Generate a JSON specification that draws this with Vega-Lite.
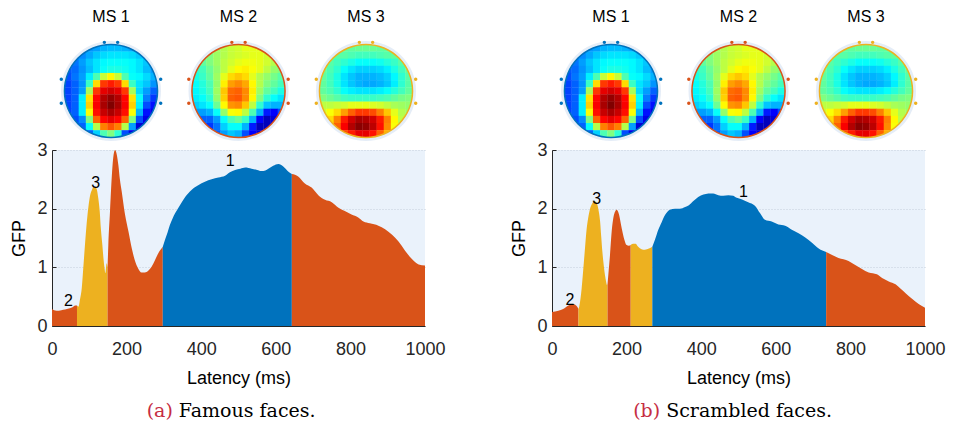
{
  "$schema": "https://vega.github.io/schema/vega-lite/v6.json",
  "padding": {"left": 10, "top": 9, "right": 5, "bottom": 5},
  "background": "white",
  "config": {
    "font": "Liberation Sans",
    "view": {"stroke": null},
    "axis": {"labelFont": "Liberation Sans", "titleFont": "Liberation Sans", "labelFontSize": 18, "titleFontSize": 18, "titleFontWeight": "normal", "labelColor": "#262626", "titleColor": "#000000", "domainColor": "#262626", "tickColor": "#262626", "labelFlush": false}
  },
  "datasets": {
    "head": [
      {"hx": -0.93, "hy": 6.8}, {"hx": 0.93, "hy": 6.8},
      {"hx": -6.95, "hy": 1.65}, {"hx": -6.95, "hy": -1.7},
      {"hx": 6.95, "hy": 1.65}, {"hx": 6.95, "hy": -1.7}
    ],
    "labs": [
      {"p": "a", "t": 44, "g": 0.42, "txt": "2"},
      {"p": "a", "t": 117, "g": 2.43, "txt": "3"},
      {"p": "a", "t": 478, "g": 2.82, "txt": "1"},
      {"p": "b", "t": 48, "g": 0.44, "txt": "2"},
      {"p": "b", "t": 120, "g": 2.16, "txt": "3"},
      {"p": "b", "t": 513, "g": 2.28, "txt": "1"}
    ],
    "gfp": [
      {"p":"a","s":1,"ms":"2","t":0,"g":0.29},{"p":"a","s":1,"ms":"2","t":12,"g":0.26},{"p":"a","s":1,"ms":"2","t":25,"g":0.27},{"p":"a","s":1,"ms":"2","t":35,"g":0.28},{"p":"a","s":1,"ms":"2","t":45,"g":0.3},{"p":"a","s":1,"ms":"2","t":55,"g":0.32},{"p":"a","s":1,"ms":"2","t":62,"g":0.35},{"p":"a","s":1,"ms":"2","t":67,"g":0.35},
      {"p":"a","s":2,"ms":"3","t":67,"g":0.35},{"p":"a","s":2,"ms":"3","t":71,"g":0.33},{"p":"a","s":2,"ms":"3","t":75,"g":0.45},{"p":"a","s":2,"ms":"3","t":80,"g":0.66},{"p":"a","s":2,"ms":"3","t":84,"g":1.0},{"p":"a","s":2,"ms":"3","t":88,"g":1.35},{"p":"a","s":2,"ms":"3","t":93,"g":1.75},{"p":"a","s":2,"ms":"3","t":98,"g":2.05},{"p":"a","s":2,"ms":"3","t":102,"g":2.22},{"p":"a","s":2,"ms":"3","t":107,"g":2.32},{"p":"a","s":2,"ms":"3","t":111,"g":2.37},{"p":"a","s":2,"ms":"3","t":116,"g":2.37},{"p":"a","s":2,"ms":"3","t":120,"g":2.33},{"p":"a","s":2,"ms":"3","t":124,"g":2.18},{"p":"a","s":2,"ms":"3","t":128,"g":1.95},{"p":"a","s":2,"ms":"3","t":131,"g":1.66},{"p":"a","s":2,"ms":"3","t":135,"g":1.38},{"p":"a","s":2,"ms":"3","t":138,"g":1.15},{"p":"a","s":2,"ms":"3","t":141,"g":0.98},{"p":"a","s":2,"ms":"3","t":143,"g":0.9},{"p":"a","s":2,"ms":"3","t":146.5,"g":1.07},{"p":"a","s":2,"ms":"3","t":149,"g":1.0},
      {"p":"a","s":3,"ms":"2","t":149,"g":1.0},{"p":"a","s":3,"ms":"2","t":151,"g":1.38},{"p":"a","s":3,"ms":"2","t":155.5,"g":1.95},{"p":"a","s":3,"ms":"2","t":160,"g":2.52},{"p":"a","s":3,"ms":"2","t":164,"g":2.86},{"p":"a","s":3,"ms":"2","t":169,"g":3.0},{"p":"a","s":3,"ms":"2","t":173,"g":2.94},{"p":"a","s":3,"ms":"2","t":178,"g":2.74},{"p":"a","s":3,"ms":"2","t":182,"g":2.5},{"p":"a","s":3,"ms":"2","t":187,"g":2.29},{"p":"a","s":3,"ms":"2","t":196,"g":1.89},{"p":"a","s":3,"ms":"2","t":205,"g":1.61},{"p":"a","s":3,"ms":"2","t":214,"g":1.32},{"p":"a","s":3,"ms":"2","t":222,"g":1.12},{"p":"a","s":3,"ms":"2","t":231,"g":0.98},{"p":"a","s":3,"ms":"2","t":240,"g":0.91},{"p":"a","s":3,"ms":"2","t":249,"g":0.91},{"p":"a","s":3,"ms":"2","t":258,"g":0.94},{"p":"a","s":3,"ms":"2","t":267,"g":1.01},{"p":"a","s":3,"ms":"2","t":276,"g":1.12},{"p":"a","s":3,"ms":"2","t":285,"g":1.24},{"p":"a","s":3,"ms":"2","t":297,"g":1.35},
      {"p":"a","s":4,"ms":"1","t":297,"g":1.35},{"p":"a","s":4,"ms":"1","t":303,"g":1.47},{"p":"a","s":4,"ms":"1","t":310,"g":1.6},{"p":"a","s":4,"ms":"1","t":316,"g":1.72},{"p":"a","s":4,"ms":"1","t":323,"g":1.83},{"p":"a","s":4,"ms":"1","t":330,"g":1.92},{"p":"a","s":4,"ms":"1","t":343,"g":2.06},{"p":"a","s":4,"ms":"1","t":357,"g":2.2},{"p":"a","s":4,"ms":"1","t":374,"g":2.32},{"p":"a","s":4,"ms":"1","t":392,"g":2.4},{"p":"a","s":4,"ms":"1","t":410,"g":2.46},{"p":"a","s":4,"ms":"1","t":428,"g":2.5},{"p":"a","s":4,"ms":"1","t":446,"g":2.53},{"p":"a","s":4,"ms":"1","t":464,"g":2.56},{"p":"a","s":4,"ms":"1","t":477,"g":2.62},{"p":"a","s":4,"ms":"1","t":491,"g":2.66},{"p":"a","s":4,"ms":"1","t":505,"g":2.68},{"p":"a","s":4,"ms":"1","t":518,"g":2.7},{"p":"a","s":4,"ms":"1","t":535,"g":2.68},{"p":"a","s":4,"ms":"1","t":550,"g":2.66},{"p":"a","s":4,"ms":"1","t":562,"g":2.64},{"p":"a","s":4,"ms":"1","t":572,"g":2.65},{"p":"a","s":4,"ms":"1","t":580,"g":2.68},{"p":"a","s":4,"ms":"1","t":593,"g":2.73},{"p":"a","s":4,"ms":"1","t":607,"g":2.76},{"p":"a","s":4,"ms":"1","t":620,"g":2.72},{"p":"a","s":4,"ms":"1","t":634,"g":2.63},{"p":"a","s":4,"ms":"1","t":643,"g":2.59},
      {"p":"a","s":5,"ms":"2","t":643,"g":2.59},{"p":"a","s":5,"ms":"2","t":660,"g":2.55},{"p":"a","s":5,"ms":"2","t":678,"g":2.43},{"p":"a","s":5,"ms":"2","t":696,"g":2.36},{"p":"a","s":5,"ms":"2","t":714,"g":2.23},{"p":"a","s":5,"ms":"2","t":732,"g":2.15},{"p":"a","s":5,"ms":"2","t":750,"g":2.11},{"p":"a","s":5,"ms":"2","t":767,"g":2.02},{"p":"a","s":5,"ms":"2","t":785,"g":1.96},{"p":"a","s":5,"ms":"2","t":803,"g":1.9},{"p":"a","s":5,"ms":"2","t":821,"g":1.85},{"p":"a","s":5,"ms":"2","t":835,"g":1.78},{"p":"a","s":5,"ms":"2","t":852,"g":1.75},{"p":"a","s":5,"ms":"2","t":875,"g":1.71},{"p":"a","s":5,"ms":"2","t":893,"g":1.65},{"p":"a","s":5,"ms":"2","t":911,"g":1.56},{"p":"a","s":5,"ms":"2","t":929,"g":1.44},{"p":"a","s":5,"ms":"2","t":947,"g":1.28},{"p":"a","s":5,"ms":"2","t":965,"g":1.14},{"p":"a","s":5,"ms":"2","t":983,"g":1.05},{"p":"a","s":5,"ms":"2","t":1000,"g":1.03},
      {"p":"b","s":1,"ms":"2","t":0,"g":0.24},{"p":"b","s":1,"ms":"2","t":17,"g":0.26},{"p":"b","s":1,"ms":"2","t":30,"g":0.29},{"p":"b","s":1,"ms":"2","t":44,"g":0.35},{"p":"b","s":1,"ms":"2","t":57,"g":0.375},{"p":"b","s":1,"ms":"2","t":66,"g":0.34},{"p":"b","s":1,"ms":"2","t":71,"g":0.29},
      {"p":"b","s":2,"ms":"3","t":71,"g":0.29},{"p":"b","s":2,"ms":"3","t":73,"g":0.33},{"p":"b","s":2,"ms":"3","t":79.5,"g":0.64},{"p":"b","s":2,"ms":"3","t":87,"g":1.21},{"p":"b","s":2,"ms":"3","t":93,"g":1.66},{"p":"b","s":2,"ms":"3","t":98,"g":1.88},{"p":"b","s":2,"ms":"3","t":102,"g":2.0},{"p":"b","s":2,"ms":"3","t":107,"g":2.08},{"p":"b","s":2,"ms":"3","t":111,"g":2.12},{"p":"b","s":2,"ms":"3","t":115,"g":2.13},{"p":"b","s":2,"ms":"3","t":119,"g":2.1},{"p":"b","s":2,"ms":"3","t":122,"g":2.06},{"p":"b","s":2,"ms":"3","t":126,"g":1.93},{"p":"b","s":2,"ms":"3","t":129,"g":1.78},{"p":"b","s":2,"ms":"3","t":132,"g":1.52},{"p":"b","s":2,"ms":"3","t":135,"g":1.27},{"p":"b","s":2,"ms":"3","t":139,"g":1.02},{"p":"b","s":2,"ms":"3","t":142,"g":0.87},{"p":"b","s":2,"ms":"3","t":145,"g":0.76},{"p":"b","s":2,"ms":"3","t":147.5,"g":0.7},{"p":"b","s":2,"ms":"3","t":149,"g":0.72},
      {"p":"b","s":3,"ms":"2","t":149,"g":0.72},{"p":"b","s":3,"ms":"2","t":152,"g":0.95},{"p":"b","s":3,"ms":"2","t":155.5,"g":1.21},{"p":"b","s":3,"ms":"2","t":160,"g":1.61},{"p":"b","s":3,"ms":"2","t":166,"g":1.89},{"p":"b","s":3,"ms":"2","t":170,"g":1.96},{"p":"b","s":3,"ms":"2","t":173,"g":1.98},{"p":"b","s":3,"ms":"2","t":177,"g":1.95},{"p":"b","s":3,"ms":"2","t":180,"g":1.89},{"p":"b","s":3,"ms":"2","t":187,"g":1.66},{"p":"b","s":3,"ms":"2","t":194,"g":1.47},{"p":"b","s":3,"ms":"2","t":200,"g":1.38},{"p":"b","s":3,"ms":"2","t":206,"g":1.37},{"p":"b","s":3,"ms":"2","t":211,"g":1.38},
      {"p":"b","s":4,"ms":"3","t":211,"g":1.38},{"p":"b","s":4,"ms":"3","t":218,"g":1.4},{"p":"b","s":4,"ms":"3","t":224,"g":1.4},{"p":"b","s":4,"ms":"3","t":231,"g":1.35},{"p":"b","s":4,"ms":"3","t":240,"g":1.31},{"p":"b","s":4,"ms":"3","t":249,"g":1.3},{"p":"b","s":4,"ms":"3","t":260,"g":1.32},{"p":"b","s":4,"ms":"3","t":269,"g":1.35},
      {"p":"b","s":5,"ms":"1","t":269,"g":1.35},{"p":"b","s":5,"ms":"1","t":276,"g":1.47},{"p":"b","s":5,"ms":"1","t":285,"g":1.64},{"p":"b","s":5,"ms":"1","t":294,"g":1.77},{"p":"b","s":5,"ms":"1","t":303,"g":1.89},{"p":"b","s":5,"ms":"1","t":316,"g":1.98},{"p":"b","s":5,"ms":"1","t":330,"g":2.0},{"p":"b","s":5,"ms":"1","t":343,"g":2.0},{"p":"b","s":5,"ms":"1","t":357,"g":2.03},{"p":"b","s":5,"ms":"1","t":367,"g":2.06},{"p":"b","s":5,"ms":"1","t":379,"g":2.13},{"p":"b","s":5,"ms":"1","t":392,"g":2.2},{"p":"b","s":5,"ms":"1","t":406,"g":2.24},{"p":"b","s":5,"ms":"1","t":419,"g":2.26},{"p":"b","s":5,"ms":"1","t":432,"g":2.26},{"p":"b","s":5,"ms":"1","t":446,"g":2.23},{"p":"b","s":5,"ms":"1","t":459,"g":2.22},{"p":"b","s":5,"ms":"1","t":473,"g":2.23},{"p":"b","s":5,"ms":"1","t":486,"g":2.22},{"p":"b","s":5,"ms":"1","t":491,"g":2.2},{"p":"b","s":5,"ms":"1","t":508,"g":2.16},{"p":"b","s":5,"ms":"1","t":526,"g":2.11},{"p":"b","s":5,"ms":"1","t":544,"g":2.05},{"p":"b","s":5,"ms":"1","t":558,"g":1.92},{"p":"b","s":5,"ms":"1","t":571,"g":1.81},{"p":"b","s":5,"ms":"1","t":589,"g":1.78},{"p":"b","s":5,"ms":"1","t":607,"g":1.73},{"p":"b","s":5,"ms":"1","t":625,"g":1.71},{"p":"b","s":5,"ms":"1","t":643,"g":1.64},{"p":"b","s":5,"ms":"1","t":661,"g":1.58},{"p":"b","s":5,"ms":"1","t":679,"g":1.51},{"p":"b","s":5,"ms":"1","t":697,"g":1.42},{"p":"b","s":5,"ms":"1","t":715,"g":1.32},{"p":"b","s":5,"ms":"1","t":735,"g":1.26},
      {"p":"b","s":6,"ms":"2","t":735,"g":1.26},{"p":"b","s":6,"ms":"2","t":751,"g":1.21},{"p":"b","s":6,"ms":"2","t":768,"g":1.16},{"p":"b","s":6,"ms":"2","t":795,"g":1.11},{"p":"b","s":6,"ms":"2","t":813,"g":1.04},{"p":"b","s":6,"ms":"2","t":831,"g":0.97},{"p":"b","s":6,"ms":"2","t":849,"g":0.91},{"p":"b","s":6,"ms":"2","t":871,"g":0.88},{"p":"b","s":6,"ms":"2","t":885,"g":0.82},{"p":"b","s":6,"ms":"2","t":903,"g":0.76},{"p":"b","s":6,"ms":"2","t":921,"g":0.71},{"p":"b","s":6,"ms":"2","t":934,"g":0.64},{"p":"b","s":6,"ms":"2","t":948,"g":0.56},{"p":"b","s":6,"ms":"2","t":966,"g":0.46},{"p":"b","s":6,"ms":"2","t":984,"g":0.37},{"p":"b","s":6,"ms":"2","t":1000,"g":0.31}
    ],
    "topo": [
      {"m":1,"i":-3,"j":6,"v":0.27},{"m":1,"i":-2,"j":6,"v":0.28},{"m":1,"i":-1,"j":6,"v":0.3},{"m":1,"i":0,"j":6,"v":0.31},{"m":1,"i":1,"j":6,"v":0.31},{"m":1,"i":2,"j":6,"v":0.3},{"m":1,"i":3,"j":6,"v":0.29},
      {"m":1,"i":-5,"j":5,"v":0.24},{"m":1,"i":-4,"j":5,"v":0.26},{"m":1,"i":-3,"j":5,"v":0.29},{"m":1,"i":-2,"j":5,"v":0.32},{"m":1,"i":-1,"j":5,"v":0.34},{"m":1,"i":0,"j":5,"v":0.35},{"m":1,"i":1,"j":5,"v":0.35},{"m":1,"i":2,"j":5,"v":0.35},{"m":1,"i":3,"j":5,"v":0.34},{"m":1,"i":4,"j":5,"v":0.32},{"m":1,"i":5,"j":5,"v":0.3},
      {"m":1,"i":-5,"j":4,"v":0.24},{"m":1,"i":-4,"j":4,"v":0.28},{"m":1,"i":-3,"j":4,"v":0.32},{"m":1,"i":-2,"j":4,"v":0.35},{"m":1,"i":-1,"j":4,"v":0.37},{"m":1,"i":0,"j":4,"v":0.38},{"m":1,"i":1,"j":4,"v":0.38},{"m":1,"i":2,"j":4,"v":0.38},{"m":1,"i":3,"j":4,"v":0.37},{"m":1,"i":4,"j":4,"v":0.35},{"m":1,"i":5,"j":4,"v":0.32},
      {"m":1,"i":-6,"j":3,"v":0.21},{"m":1,"i":-5,"j":3,"v":0.23},{"m":1,"i":-4,"j":3,"v":0.27},{"m":1,"i":-3,"j":3,"v":0.31},{"m":1,"i":-2,"j":3,"v":0.35},{"m":1,"i":-1,"j":3,"v":0.38},{"m":1,"i":0,"j":3,"v":0.4},{"m":1,"i":1,"j":3,"v":0.4},{"m":1,"i":2,"j":3,"v":0.39},{"m":1,"i":3,"j":3,"v":0.37},{"m":1,"i":4,"j":3,"v":0.35},{"m":1,"i":5,"j":3,"v":0.31},{"m":1,"i":6,"j":3,"v":0.28},
      {"m":1,"i":-6,"j":2,"v":0.2},{"m":1,"i":-5,"j":2,"v":0.24},{"m":1,"i":-4,"j":2,"v":0.28},{"m":1,"i":-3,"j":2,"v":0.36},{"m":1,"i":-2,"j":2,"v":0.45},{"m":1,"i":-1,"j":2,"v":0.57},{"m":1,"i":0,"j":2,"v":0.63},{"m":1,"i":1,"j":2,"v":0.57},{"m":1,"i":2,"j":2,"v":0.45},{"m":1,"i":3,"j":2,"v":0.38},{"m":1,"i":4,"j":2,"v":0.37},{"m":1,"i":5,"j":2,"v":0.34},{"m":1,"i":6,"j":2,"v":0.3},
      {"m":1,"i":-6,"j":1,"v":0.19},{"m":1,"i":-5,"j":1,"v":0.22},{"m":1,"i":-4,"j":1,"v":0.27},{"m":1,"i":-3,"j":1,"v":0.43},{"m":1,"i":-2,"j":1,"v":0.66},{"m":1,"i":-1,"j":1,"v":0.82},{"m":1,"i":0,"j":1,"v":0.85},{"m":1,"i":1,"j":1,"v":0.82},{"m":1,"i":2,"j":1,"v":0.66},{"m":1,"i":3,"j":1,"v":0.43},{"m":1,"i":4,"j":1,"v":0.35},{"m":1,"i":5,"j":1,"v":0.32},{"m":1,"i":6,"j":1,"v":0.27},
      {"m":1,"i":-6,"j":0,"v":0.19},{"m":1,"i":-5,"j":0,"v":0.22},{"m":1,"i":-4,"j":0,"v":0.28},{"m":1,"i":-3,"j":0,"v":0.54},{"m":1,"i":-2,"j":0,"v":0.82},{"m":1,"i":-1,"j":0,"v":0.9},{"m":1,"i":0,"j":0,"v":0.92},{"m":1,"i":1,"j":0,"v":0.9},{"m":1,"i":2,"j":0,"v":0.82},{"m":1,"i":3,"j":0,"v":0.54},{"m":1,"i":4,"j":0,"v":0.34},{"m":1,"i":5,"j":0,"v":0.28},{"m":1,"i":6,"j":0,"v":0.22},
      {"m":1,"i":-6,"j":-1,"v":0.19},{"m":1,"i":-5,"j":-1,"v":0.22},{"m":1,"i":-4,"j":-1,"v":0.36},{"m":1,"i":-3,"j":-1,"v":0.65},{"m":1,"i":-2,"j":-1,"v":0.87},{"m":1,"i":-1,"j":-1,"v":0.95},{"m":1,"i":0,"j":-1,"v":0.98},{"m":1,"i":1,"j":-1,"v":0.95},{"m":1,"i":2,"j":-1,"v":0.87},{"m":1,"i":3,"j":-1,"v":0.65},{"m":1,"i":4,"j":-1,"v":0.38},{"m":1,"i":5,"j":-1,"v":0.25},{"m":1,"i":6,"j":-1,"v":0.18},
      {"m":1,"i":-6,"j":-2,"v":0.19},{"m":1,"i":-5,"j":-2,"v":0.22},{"m":1,"i":-4,"j":-2,"v":0.36},{"m":1,"i":-3,"j":-2,"v":0.67},{"m":1,"i":-2,"j":-2,"v":0.88},{"m":1,"i":-1,"j":-2,"v":0.96},{"m":1,"i":0,"j":-2,"v":1.0},{"m":1,"i":1,"j":-2,"v":0.96},{"m":1,"i":2,"j":-2,"v":0.88},{"m":1,"i":3,"j":-2,"v":0.67},{"m":1,"i":4,"j":-2,"v":0.36},{"m":1,"i":5,"j":-2,"v":0.2},{"m":1,"i":6,"j":-2,"v":0.14},
      {"m":1,"i":-6,"j":-3,"v":0.19},{"m":1,"i":-5,"j":-3,"v":0.22},{"m":1,"i":-4,"j":-3,"v":0.36},{"m":1,"i":-3,"j":-3,"v":0.62},{"m":1,"i":-2,"j":-3,"v":0.86},{"m":1,"i":-1,"j":-3,"v":0.93},{"m":1,"i":0,"j":-3,"v":0.96},{"m":1,"i":1,"j":-3,"v":0.93},{"m":1,"i":2,"j":-3,"v":0.86},{"m":1,"i":3,"j":-3,"v":0.62},{"m":1,"i":4,"j":-3,"v":0.3},{"m":1,"i":5,"j":-3,"v":0.14},{"m":1,"i":6,"j":-3,"v":0.1},
      {"m":1,"i":-5,"j":-4,"v":0.2},{"m":1,"i":-4,"j":-4,"v":0.26},{"m":1,"i":-3,"j":-4,"v":0.5},{"m":1,"i":-2,"j":-4,"v":0.78},{"m":1,"i":-1,"j":-4,"v":0.87},{"m":1,"i":0,"j":-4,"v":0.9},{"m":1,"i":1,"j":-4,"v":0.87},{"m":1,"i":2,"j":-4,"v":0.78},{"m":1,"i":3,"j":-4,"v":0.5},{"m":1,"i":4,"j":-4,"v":0.2},{"m":1,"i":5,"j":-4,"v":0.1},
      {"m":1,"i":-5,"j":-5,"v":0.2},{"m":1,"i":-4,"j":-5,"v":0.22},{"m":1,"i":-3,"j":-5,"v":0.38},{"m":1,"i":-2,"j":-5,"v":0.55},{"m":1,"i":-1,"j":-5,"v":0.75},{"m":1,"i":0,"j":-5,"v":0.79},{"m":1,"i":1,"j":-5,"v":0.75},{"m":1,"i":2,"j":-5,"v":0.55},{"m":1,"i":3,"j":-5,"v":0.28},{"m":1,"i":4,"j":-5,"v":0.08},{"m":1,"i":5,"j":-5,"v":0.06},
      {"m":1,"i":-3,"j":-6,"v":0.22},{"m":1,"i":-2,"j":-6,"v":0.33},{"m":1,"i":-1,"j":-6,"v":0.45},{"m":1,"i":0,"j":-6,"v":0.5},{"m":1,"i":1,"j":-6,"v":0.42},{"m":1,"i":2,"j":-6,"v":0.2},{"m":1,"i":3,"j":-6,"v":0.1},

      {"m":2,"i":-3,"j":6,"v":0.53},{"m":2,"i":-2,"j":6,"v":0.55},{"m":2,"i":-1,"j":6,"v":0.57},{"m":2,"i":0,"j":6,"v":0.58},{"m":2,"i":1,"j":6,"v":0.6},{"m":2,"i":2,"j":6,"v":0.6},{"m":2,"i":3,"j":6,"v":0.6},
      {"m":2,"i":-5,"j":5,"v":0.48},{"m":2,"i":-4,"j":5,"v":0.5},{"m":2,"i":-3,"j":5,"v":0.53},{"m":2,"i":-2,"j":5,"v":0.55},{"m":2,"i":-1,"j":5,"v":0.57},{"m":2,"i":0,"j":5,"v":0.58},{"m":2,"i":1,"j":5,"v":0.59},{"m":2,"i":2,"j":5,"v":0.6},{"m":2,"i":3,"j":5,"v":0.6},{"m":2,"i":4,"j":5,"v":0.58},{"m":2,"i":5,"j":5,"v":0.57},
      {"m":2,"i":-5,"j":4,"v":0.47},{"m":2,"i":-4,"j":4,"v":0.5},{"m":2,"i":-3,"j":4,"v":0.53},{"m":2,"i":-2,"j":4,"v":0.56},{"m":2,"i":-1,"j":4,"v":0.58},{"m":2,"i":0,"j":4,"v":0.6},{"m":2,"i":1,"j":4,"v":0.61},{"m":2,"i":2,"j":4,"v":0.61},{"m":2,"i":3,"j":4,"v":0.6},{"m":2,"i":4,"j":4,"v":0.58},{"m":2,"i":5,"j":4,"v":0.55},
      {"m":2,"i":-6,"j":3,"v":0.42},{"m":2,"i":-5,"j":3,"v":0.44},{"m":2,"i":-4,"j":3,"v":0.48},{"m":2,"i":-3,"j":3,"v":0.52},{"m":2,"i":-2,"j":3,"v":0.56},{"m":2,"i":-1,"j":3,"v":0.6},{"m":2,"i":0,"j":3,"v":0.63},{"m":2,"i":1,"j":3,"v":0.64},{"m":2,"i":2,"j":3,"v":0.62},{"m":2,"i":3,"j":3,"v":0.6},{"m":2,"i":4,"j":3,"v":0.56},{"m":2,"i":5,"j":3,"v":0.52},{"m":2,"i":6,"j":3,"v":0.5},
      {"m":2,"i":-6,"j":2,"v":0.4},{"m":2,"i":-5,"j":2,"v":0.43},{"m":2,"i":-4,"j":2,"v":0.47},{"m":2,"i":-3,"j":2,"v":0.53},{"m":2,"i":-2,"j":2,"v":0.6},{"m":2,"i":-1,"j":2,"v":0.66},{"m":2,"i":0,"j":2,"v":0.68},{"m":2,"i":1,"j":2,"v":0.66},{"m":2,"i":2,"j":2,"v":0.6},{"m":2,"i":3,"j":2,"v":0.55},{"m":2,"i":4,"j":2,"v":0.52},{"m":2,"i":5,"j":2,"v":0.49},{"m":2,"i":6,"j":2,"v":0.46},
      {"m":2,"i":-6,"j":1,"v":0.38},{"m":2,"i":-5,"j":1,"v":0.41},{"m":2,"i":-4,"j":1,"v":0.45},{"m":2,"i":-3,"j":1,"v":0.52},{"m":2,"i":-2,"j":1,"v":0.64},{"m":2,"i":-1,"j":1,"v":0.72},{"m":2,"i":0,"j":1,"v":0.74},{"m":2,"i":1,"j":1,"v":0.71},{"m":2,"i":2,"j":1,"v":0.63},{"m":2,"i":3,"j":1,"v":0.55},{"m":2,"i":4,"j":1,"v":0.5},{"m":2,"i":5,"j":1,"v":0.47},{"m":2,"i":6,"j":1,"v":0.44},
      {"m":2,"i":-6,"j":0,"v":0.37},{"m":2,"i":-5,"j":0,"v":0.4},{"m":2,"i":-4,"j":0,"v":0.44},{"m":2,"i":-3,"j":0,"v":0.53},{"m":2,"i":-2,"j":0,"v":0.68},{"m":2,"i":-1,"j":0,"v":0.77},{"m":2,"i":0,"j":0,"v":0.78},{"m":2,"i":1,"j":0,"v":0.74},{"m":2,"i":2,"j":0,"v":0.64},{"m":2,"i":3,"j":0,"v":0.53},{"m":2,"i":4,"j":0,"v":0.47},{"m":2,"i":5,"j":0,"v":0.44},{"m":2,"i":6,"j":0,"v":0.4},
      {"m":2,"i":-6,"j":-1,"v":0.36},{"m":2,"i":-5,"j":-1,"v":0.38},{"m":2,"i":-4,"j":-1,"v":0.42},{"m":2,"i":-3,"j":-1,"v":0.52},{"m":2,"i":-2,"j":-1,"v":0.67},{"m":2,"i":-1,"j":-1,"v":0.78},{"m":2,"i":0,"j":-1,"v":0.79},{"m":2,"i":1,"j":-1,"v":0.74},{"m":2,"i":2,"j":-1,"v":0.63},{"m":2,"i":3,"j":-1,"v":0.5},{"m":2,"i":4,"j":-1,"v":0.42},{"m":2,"i":5,"j":-1,"v":0.38},{"m":2,"i":6,"j":-1,"v":0.35},
      {"m":2,"i":-6,"j":-2,"v":0.33},{"m":2,"i":-5,"j":-2,"v":0.35},{"m":2,"i":-4,"j":-2,"v":0.38},{"m":2,"i":-3,"j":-2,"v":0.48},{"m":2,"i":-2,"j":-2,"v":0.63},{"m":2,"i":-1,"j":-2,"v":0.73},{"m":2,"i":0,"j":-2,"v":0.74},{"m":2,"i":1,"j":-2,"v":0.68},{"m":2,"i":2,"j":-2,"v":0.56},{"m":2,"i":3,"j":-2,"v":0.42},{"m":2,"i":4,"j":-2,"v":0.32},{"m":2,"i":5,"j":-2,"v":0.3},{"m":2,"i":6,"j":-2,"v":0.3},
      {"m":2,"i":-6,"j":-3,"v":0.28},{"m":2,"i":-5,"j":-3,"v":0.28},{"m":2,"i":-4,"j":-3,"v":0.3},{"m":2,"i":-3,"j":-3,"v":0.38},{"m":2,"i":-2,"j":-3,"v":0.52},{"m":2,"i":-1,"j":-3,"v":0.62},{"m":2,"i":0,"j":-3,"v":0.63},{"m":2,"i":1,"j":-3,"v":0.56},{"m":2,"i":2,"j":-3,"v":0.45},{"m":2,"i":3,"j":-3,"v":0.3},{"m":2,"i":4,"j":-3,"v":0.15},{"m":2,"i":5,"j":-3,"v":0.12},{"m":2,"i":6,"j":-3,"v":0.2},
      {"m":2,"i":-5,"j":-4,"v":0.22},{"m":2,"i":-4,"j":-4,"v":0.22},{"m":2,"i":-3,"j":-4,"v":0.28},{"m":2,"i":-2,"j":-4,"v":0.38},{"m":2,"i":-1,"j":-4,"v":0.45},{"m":2,"i":0,"j":-4,"v":0.48},{"m":2,"i":1,"j":-4,"v":0.43},{"m":2,"i":2,"j":-4,"v":0.3},{"m":2,"i":3,"j":-4,"v":0.12},{"m":2,"i":4,"j":-4,"v":0.05},{"m":2,"i":5,"j":-4,"v":0.08},
      {"m":2,"i":-5,"j":-5,"v":0.2},{"m":2,"i":-4,"j":-5,"v":0.18},{"m":2,"i":-3,"j":-5,"v":0.24},{"m":2,"i":-2,"j":-5,"v":0.33},{"m":2,"i":-1,"j":-5,"v":0.38},{"m":2,"i":0,"j":-5,"v":0.38},{"m":2,"i":1,"j":-5,"v":0.3},{"m":2,"i":2,"j":-5,"v":0.15},{"m":2,"i":3,"j":-5,"v":0.05},{"m":2,"i":4,"j":-5,"v":0.05},{"m":2,"i":5,"j":-5,"v":0.08},
      {"m":2,"i":-3,"j":-6,"v":0.22},{"m":2,"i":-2,"j":-6,"v":0.28},{"m":2,"i":-1,"j":-6,"v":0.32},{"m":2,"i":0,"j":-6,"v":0.3},{"m":2,"i":1,"j":-6,"v":0.2},{"m":2,"i":2,"j":-6,"v":0.12},{"m":2,"i":3,"j":-6,"v":0.08},

      {"m":3,"i":-3,"j":6,"v":0.47},{"m":3,"i":-2,"j":6,"v":0.47},{"m":3,"i":-1,"j":6,"v":0.48},{"m":3,"i":0,"j":6,"v":0.48},{"m":3,"i":1,"j":6,"v":0.48},{"m":3,"i":2,"j":6,"v":0.47},{"m":3,"i":3,"j":6,"v":0.47},
      {"m":3,"i":-5,"j":5,"v":0.47},{"m":3,"i":-4,"j":5,"v":0.46},{"m":3,"i":-3,"j":5,"v":0.46},{"m":3,"i":-2,"j":5,"v":0.45},{"m":3,"i":-1,"j":5,"v":0.44},{"m":3,"i":0,"j":5,"v":0.44},{"m":3,"i":1,"j":5,"v":0.44},{"m":3,"i":2,"j":5,"v":0.45},{"m":3,"i":3,"j":5,"v":0.46},{"m":3,"i":4,"j":5,"v":0.47},{"m":3,"i":5,"j":5,"v":0.48},
      {"m":3,"i":-5,"j":4,"v":0.46},{"m":3,"i":-4,"j":4,"v":0.44},{"m":3,"i":-3,"j":4,"v":0.42},{"m":3,"i":-2,"j":4,"v":0.4},{"m":3,"i":-1,"j":4,"v":0.38},{"m":3,"i":0,"j":4,"v":0.38},{"m":3,"i":1,"j":4,"v":0.38},{"m":3,"i":2,"j":4,"v":0.39},{"m":3,"i":3,"j":4,"v":0.41},{"m":3,"i":4,"j":4,"v":0.43},{"m":3,"i":5,"j":4,"v":0.46},
      {"m":3,"i":-6,"j":3,"v":0.48},{"m":3,"i":-5,"j":3,"v":0.45},{"m":3,"i":-4,"j":3,"v":0.42},{"m":3,"i":-3,"j":3,"v":0.38},{"m":3,"i":-2,"j":3,"v":0.35},{"m":3,"i":-1,"j":3,"v":0.33},{"m":3,"i":0,"j":3,"v":0.33},{"m":3,"i":1,"j":3,"v":0.33},{"m":3,"i":2,"j":3,"v":0.34},{"m":3,"i":3,"j":3,"v":0.36},{"m":3,"i":4,"j":3,"v":0.4},{"m":3,"i":5,"j":3,"v":0.44},{"m":3,"i":6,"j":3,"v":0.47},
      {"m":3,"i":-6,"j":2,"v":0.47},{"m":3,"i":-5,"j":2,"v":0.44},{"m":3,"i":-4,"j":2,"v":0.4},{"m":3,"i":-3,"j":2,"v":0.35},{"m":3,"i":-2,"j":2,"v":0.32},{"m":3,"i":-1,"j":2,"v":0.3},{"m":3,"i":0,"j":2,"v":0.3},{"m":3,"i":1,"j":2,"v":0.3},{"m":3,"i":2,"j":2,"v":0.31},{"m":3,"i":3,"j":2,"v":0.33},{"m":3,"i":4,"j":2,"v":0.37},{"m":3,"i":5,"j":2,"v":0.42},{"m":3,"i":6,"j":2,"v":0.46},
      {"m":3,"i":-6,"j":1,"v":0.47},{"m":3,"i":-5,"j":1,"v":0.44},{"m":3,"i":-4,"j":1,"v":0.4},{"m":3,"i":-3,"j":1,"v":0.35},{"m":3,"i":-2,"j":1,"v":0.32},{"m":3,"i":-1,"j":1,"v":0.3},{"m":3,"i":0,"j":1,"v":0.29},{"m":3,"i":1,"j":1,"v":0.29},{"m":3,"i":2,"j":1,"v":0.3},{"m":3,"i":3,"j":1,"v":0.32},{"m":3,"i":4,"j":1,"v":0.36},{"m":3,"i":5,"j":1,"v":0.42},{"m":3,"i":6,"j":1,"v":0.46},
      {"m":3,"i":-6,"j":0,"v":0.47},{"m":3,"i":-5,"j":0,"v":0.45},{"m":3,"i":-4,"j":0,"v":0.42},{"m":3,"i":-3,"j":0,"v":0.38},{"m":3,"i":-2,"j":0,"v":0.36},{"m":3,"i":-1,"j":0,"v":0.35},{"m":3,"i":0,"j":0,"v":0.35},{"m":3,"i":1,"j":0,"v":0.35},{"m":3,"i":2,"j":0,"v":0.36},{"m":3,"i":3,"j":0,"v":0.38},{"m":3,"i":4,"j":0,"v":0.41},{"m":3,"i":5,"j":0,"v":0.44},{"m":3,"i":6,"j":0,"v":0.47},
      {"m":3,"i":-6,"j":-1,"v":0.5},{"m":3,"i":-5,"j":-1,"v":0.48},{"m":3,"i":-4,"j":-1,"v":0.46},{"m":3,"i":-3,"j":-1,"v":0.44},{"m":3,"i":-2,"j":-1,"v":0.43},{"m":3,"i":-1,"j":-1,"v":0.43},{"m":3,"i":0,"j":-1,"v":0.43},{"m":3,"i":1,"j":-1,"v":0.43},{"m":3,"i":2,"j":-1,"v":0.44},{"m":3,"i":3,"j":-1,"v":0.45},{"m":3,"i":4,"j":-1,"v":0.47},{"m":3,"i":5,"j":-1,"v":0.49},{"m":3,"i":6,"j":-1,"v":0.5},
      {"m":3,"i":-6,"j":-2,"v":0.56},{"m":3,"i":-5,"j":-2,"v":0.56},{"m":3,"i":-4,"j":-2,"v":0.57},{"m":3,"i":-3,"j":-2,"v":0.58},{"m":3,"i":-2,"j":-2,"v":0.6},{"m":3,"i":-1,"j":-2,"v":0.6},{"m":3,"i":0,"j":-2,"v":0.6},{"m":3,"i":1,"j":-2,"v":0.59},{"m":3,"i":2,"j":-2,"v":0.58},{"m":3,"i":3,"j":-2,"v":0.56},{"m":3,"i":4,"j":-2,"v":0.54},{"m":3,"i":5,"j":-2,"v":0.53},{"m":3,"i":6,"j":-2,"v":0.52},
      {"m":3,"i":-6,"j":-3,"v":0.58},{"m":3,"i":-5,"j":-3,"v":0.62},{"m":3,"i":-4,"j":-3,"v":0.66},{"m":3,"i":-3,"j":-3,"v":0.72},{"m":3,"i":-2,"j":-3,"v":0.78},{"m":3,"i":-1,"j":-3,"v":0.82},{"m":3,"i":0,"j":-3,"v":0.82},{"m":3,"i":1,"j":-3,"v":0.8},{"m":3,"i":2,"j":-3,"v":0.75},{"m":3,"i":3,"j":-3,"v":0.68},{"m":3,"i":4,"j":-3,"v":0.6},{"m":3,"i":5,"j":-3,"v":0.55},{"m":3,"i":6,"j":-3,"v":0.53},
      {"m":3,"i":-5,"j":-4,"v":0.66},{"m":3,"i":-4,"j":-4,"v":0.75},{"m":3,"i":-3,"j":-4,"v":0.85},{"m":3,"i":-2,"j":-4,"v":0.92},{"m":3,"i":-1,"j":-4,"v":0.96},{"m":3,"i":0,"j":-4,"v":0.95},{"m":3,"i":1,"j":-4,"v":0.92},{"m":3,"i":2,"j":-4,"v":0.85},{"m":3,"i":3,"j":-4,"v":0.75},{"m":3,"i":4,"j":-4,"v":0.63},{"m":3,"i":5,"j":-4,"v":0.56},
      {"m":3,"i":-5,"j":-5,"v":0.7},{"m":3,"i":-4,"j":-5,"v":0.78},{"m":3,"i":-3,"j":-5,"v":0.88},{"m":3,"i":-2,"j":-5,"v":0.95},{"m":3,"i":-1,"j":-5,"v":0.99},{"m":3,"i":0,"j":-5,"v":0.98},{"m":3,"i":1,"j":-5,"v":0.94},{"m":3,"i":2,"j":-5,"v":0.86},{"m":3,"i":3,"j":-5,"v":0.74},{"m":3,"i":4,"j":-5,"v":0.62},{"m":3,"i":5,"j":-5,"v":0.58},
      {"m":3,"i":-3,"j":-6,"v":0.8},{"m":3,"i":-2,"j":-6,"v":0.85},{"m":3,"i":-1,"j":-6,"v":0.9},{"m":3,"i":0,"j":-6,"v":0.9},{"m":3,"i":1,"j":-6,"v":0.86},{"m":3,"i":2,"j":-6,"v":0.78},{"m":3,"i":3,"j":-6,"v":0.7}
    ]
  },
  "bounds": "flush",
  "spacing": 127,
  "hconcat": [
    {
      "width": 373, "height": 176,
      "view": {"fill": "#EAF2FB"},
      "resolve": {"scale": {"x": "independent", "y": "independent", "color": "independent"}},
      "layer": [
        {"layer": [
          {"data": {"name": "gfp"}, "transform": [{"filter": "datum.p == 'a'"}],
           "mark": {"type": "area", "interpolate": "monotone", "opacity": 1},
           "encoding": {
             "x": {"field": "t", "type": "quantitative", "scale": {"domain": [0, 1000], "nice": false}, "axis": {"values": [0, 200, 400, 600, 800, 1000], "format": "d", "title": "Latency (ms)", "grid": false, "tickSize": 0, "labelPadding": 14, "titlePadding": 11, "zindex": 1}},
             "y": {"field": "g", "type": "quantitative", "stack": null, "scale": {"domain": [0, 3], "nice": false}, "axis": {"values": [0, 1, 2, 3], "format": "d", "title": "GFP", "grid": true, "gridDash": [1, 2], "gridColor": "#c5cfda", "tickSize": -4, "labelPadding": 9, "titlePadding": 8}},
             "color": {"field": "ms", "type": "nominal", "scale": {"domain": ["1", "2", "3"], "range": ["#0072BD", "#D95319", "#EDB120"]}, "legend": null},
             "detail": {"field": "s", "type": "nominal"}
           }},
          {"data": {"name": "labs"}, "transform": [{"filter": "datum.p == 'a'"}],
           "mark": {"type": "text", "fontSize": 16, "font": "Liberation Sans", "color": "#000000", "baseline": "middle", "align": "center"},
           "encoding": {"x": {"field": "t", "type": "quantitative"}, "y": {"field": "g", "type": "quantitative"}, "text": {"field": "txt"}}},
          {"data": {"values": [{}]}, "mark": {"type": "text", "text": "(a)", "font": "DejaVu Serif", "fontSize": 19, "color": "#c62d42", "align": "right", "baseline": "middle"},
           "encoding": {"x": {"datum": 324, "type": "quantitative"}, "y": {"datum": -1.45, "type": "quantitative"}}},
          {"data": {"values": [{}]}, "mark": {"type": "text", "text": "Famous faces.", "font": "DejaVu Serif", "fontSize": 19, "color": "#000000", "align": "left", "baseline": "middle"},
           "encoding": {"x": {"datum": 340, "type": "quantitative"}, "y": {"datum": -1.45, "type": "quantitative"}}}
        ]},
        {"layer": [
          {"data": {"name": "topo"}, "transform": [{"filter": "datum.m == 1"}], "mark": {"type": "point", "shape": "square", "filled": true, "size": 56, "opacity": 1, "strokeWidth": 0},
           "encoding": {"x": {"field": "i", "type": "quantitative", "scale": {"domain": [-8.25, 8.25], "range": [0, 118], "nice": false, "zero": false}, "axis": null}, "y": {"field": "j", "type": "quantitative", "scale": {"domain": [-8.25, 8.25], "range": [0, -118], "nice": false, "zero": false}, "axis": null}, "color": {"field": "v", "type": "quantitative", "scale": {"domain": [0, 0.125, 0.375, 0.625, 0.875, 1], "range": ["#00008f", "#0000ff", "#00ffff", "#ffff00", "#ff0000", "#800000"], "interpolate": "rgb", "clamp": true}, "legend": null}}},
          {"data": {"values": [{}]}, "mark": {"type": "arc", "theta": 0, "theta2": 6.2832, "innerRadius": 47, "outerRadius": 58, "color": "#ffffff"}, "encoding": {"x": {"datum": 0, "type": "quantitative"}, "y": {"datum": 0, "type": "quantitative"}}},
          {"data": {"values": [{}]}, "mark": {"type": "arc", "theta": 0, "theta2": 6.2832, "innerRadius": 46.5, "outerRadius": 50, "color": "#dfe9f5", "opacity": 0.8}, "encoding": {"x": {"datum": 0, "type": "quantitative"}, "y": {"datum": 0, "type": "quantitative"}}},
          {"data": {"values": [{}]}, "mark": {"type": "arc", "theta": 0, "theta2": 6.2832, "innerRadius": 45.8, "outerRadius": 47.3, "color": "#0072BD"}, "encoding": {"x": {"datum": 0, "type": "quantitative"}, "y": {"datum": 0, "type": "quantitative"}}},
          {"data": {"name": "head"}, "mark": {"type": "point", "shape": "circle", "filled": true, "size": 12, "opacity": 1, "color": "#0072BD"}, "encoding": {"x": {"field": "hx", "type": "quantitative"}, "y": {"field": "hy", "type": "quantitative"}}},
          {"data": {"values": [{}]}, "mark": {"type": "text", "text": "MS 1", "font": "Liberation Sans", "fontSize": 16, "color": "#000000", "align": "center", "baseline": "middle"}, "encoding": {"x": {"datum": 0, "type": "quantitative"}, "y": {"datum": 10.28, "type": "quantitative"}}}
        ]},
        {"layer": [
          {"data": {"name": "topo"}, "transform": [{"filter": "datum.m == 2"}], "mark": {"type": "point", "shape": "square", "filled": true, "size": 56, "opacity": 1, "strokeWidth": 0},
           "encoding": {"x": {"field": "i", "type": "quantitative", "scale": {"domain": [-8.25, 8.25], "range": [127.5, 245.5], "nice": false, "zero": false}, "axis": null}, "y": {"field": "j", "type": "quantitative", "scale": {"domain": [-8.25, 8.25], "range": [0, -118], "nice": false, "zero": false}, "axis": null}, "color": {"field": "v", "type": "quantitative", "scale": {"domain": [0, 0.125, 0.375, 0.625, 0.875, 1], "range": ["#00008f", "#0000ff", "#00ffff", "#ffff00", "#ff0000", "#800000"], "interpolate": "rgb", "clamp": true}, "legend": null}}},
          {"data": {"values": [{}]}, "mark": {"type": "arc", "theta": 0, "theta2": 6.2832, "innerRadius": 47, "outerRadius": 58, "color": "#ffffff"}, "encoding": {"x": {"datum": 0, "type": "quantitative"}, "y": {"datum": 0, "type": "quantitative"}}},
          {"data": {"values": [{}]}, "mark": {"type": "arc", "theta": 0, "theta2": 6.2832, "innerRadius": 46.5, "outerRadius": 50, "color": "#dfe9f5", "opacity": 0.8}, "encoding": {"x": {"datum": 0, "type": "quantitative"}, "y": {"datum": 0, "type": "quantitative"}}},
          {"data": {"values": [{}]}, "mark": {"type": "arc", "theta": 0, "theta2": 6.2832, "innerRadius": 45.8, "outerRadius": 47.3, "color": "#D95319"}, "encoding": {"x": {"datum": 0, "type": "quantitative"}, "y": {"datum": 0, "type": "quantitative"}}},
          {"data": {"name": "head"}, "mark": {"type": "point", "shape": "circle", "filled": true, "size": 12, "opacity": 1, "color": "#D95319"}, "encoding": {"x": {"field": "hx", "type": "quantitative"}, "y": {"field": "hy", "type": "quantitative"}}},
          {"data": {"values": [{}]}, "mark": {"type": "text", "text": "MS 2", "font": "Liberation Sans", "fontSize": 16, "color": "#000000", "align": "center", "baseline": "middle"}, "encoding": {"x": {"datum": 0, "type": "quantitative"}, "y": {"datum": 10.28, "type": "quantitative"}}}
        ]},
        {"layer": [
          {"data": {"name": "topo"}, "transform": [{"filter": "datum.m == 3"}], "mark": {"type": "point", "shape": "square", "filled": true, "size": 56, "opacity": 1, "strokeWidth": 0},
           "encoding": {"x": {"field": "i", "type": "quantitative", "scale": {"domain": [-8.25, 8.25], "range": [255, 373], "nice": false, "zero": false}, "axis": null}, "y": {"field": "j", "type": "quantitative", "scale": {"domain": [-8.25, 8.25], "range": [0, -118], "nice": false, "zero": false}, "axis": null}, "color": {"field": "v", "type": "quantitative", "scale": {"domain": [0, 0.125, 0.375, 0.625, 0.875, 1], "range": ["#00008f", "#0000ff", "#00ffff", "#ffff00", "#ff0000", "#800000"], "interpolate": "rgb", "clamp": true}, "legend": null}}},
          {"data": {"values": [{}]}, "mark": {"type": "arc", "theta": 0, "theta2": 6.2832, "innerRadius": 47, "outerRadius": 58, "color": "#ffffff"}, "encoding": {"x": {"datum": 0, "type": "quantitative"}, "y": {"datum": 0, "type": "quantitative"}}},
          {"data": {"values": [{}]}, "mark": {"type": "arc", "theta": 0, "theta2": 6.2832, "innerRadius": 46.5, "outerRadius": 50, "color": "#dfe9f5", "opacity": 0.8}, "encoding": {"x": {"datum": 0, "type": "quantitative"}, "y": {"datum": 0, "type": "quantitative"}}},
          {"data": {"values": [{}]}, "mark": {"type": "arc", "theta": 0, "theta2": 6.2832, "innerRadius": 45.8, "outerRadius": 47.3, "color": "#EDB120"}, "encoding": {"x": {"datum": 0, "type": "quantitative"}, "y": {"datum": 0, "type": "quantitative"}}},
          {"data": {"name": "head"}, "mark": {"type": "point", "shape": "circle", "filled": true, "size": 12, "opacity": 1, "color": "#EDB120"}, "encoding": {"x": {"field": "hx", "type": "quantitative"}, "y": {"field": "hy", "type": "quantitative"}}},
          {"data": {"values": [{}]}, "mark": {"type": "text", "text": "MS 3", "font": "Liberation Sans", "fontSize": 16, "color": "#000000", "align": "center", "baseline": "middle"}, "encoding": {"x": {"datum": 0, "type": "quantitative"}, "y": {"datum": 10.28, "type": "quantitative"}}}
        ]}
      ]
    },
    {
      "width": 373, "height": 176,
      "view": {"fill": "#EAF2FB"},
      "resolve": {"scale": {"x": "independent", "y": "independent", "color": "independent"}},
      "layer": [
        {"layer": [
          {"data": {"name": "gfp"}, "transform": [{"filter": "datum.p == 'b'"}],
           "mark": {"type": "area", "interpolate": "monotone", "opacity": 1},
           "encoding": {
             "x": {"field": "t", "type": "quantitative", "scale": {"domain": [0, 1000], "nice": false}, "axis": {"values": [0, 200, 400, 600, 800, 1000], "format": "d", "title": "Latency (ms)", "grid": false, "tickSize": 0, "labelPadding": 14, "titlePadding": 11, "zindex": 1}},
             "y": {"field": "g", "type": "quantitative", "stack": null, "scale": {"domain": [0, 3], "nice": false}, "axis": {"values": [0, 1, 2, 3], "format": "d", "title": "GFP", "grid": true, "gridDash": [1, 2], "gridColor": "#c5cfda", "tickSize": -4, "labelPadding": 9, "titlePadding": 8}},
             "color": {"field": "ms", "type": "nominal", "scale": {"domain": ["1", "2", "3"], "range": ["#0072BD", "#D95319", "#EDB120"]}, "legend": null},
             "detail": {"field": "s", "type": "nominal"}
           }},
          {"data": {"name": "labs"}, "transform": [{"filter": "datum.p == 'b'"}],
           "mark": {"type": "text", "fontSize": 16, "font": "Liberation Sans", "color": "#000000", "baseline": "middle", "align": "center"},
           "encoding": {"x": {"field": "t", "type": "quantitative"}, "y": {"field": "g", "type": "quantitative"}, "text": {"field": "txt"}}},
          {"data": {"values": [{}]}, "mark": {"type": "text", "text": "(b)", "font": "DejaVu Serif", "fontSize": 19, "color": "#c62d42", "align": "right", "baseline": "middle"},
           "encoding": {"x": {"datum": 290, "type": "quantitative"}, "y": {"datum": -1.45, "type": "quantitative"}}},
          {"data": {"values": [{}]}, "mark": {"type": "text", "text": "Scrambled faces.", "font": "DejaVu Serif", "fontSize": 19, "color": "#000000", "align": "left", "baseline": "middle"},
           "encoding": {"x": {"datum": 306, "type": "quantitative"}, "y": {"datum": -1.45, "type": "quantitative"}}}
        ]},
        {"layer": [
          {"data": {"name": "topo"}, "transform": [{"filter": "datum.m == 1"}], "mark": {"type": "point", "shape": "square", "filled": true, "size": 56, "opacity": 1, "strokeWidth": 0},
           "encoding": {"x": {"field": "i", "type": "quantitative", "scale": {"domain": [-8.25, 8.25], "range": [0, 118], "nice": false, "zero": false}, "axis": null}, "y": {"field": "j", "type": "quantitative", "scale": {"domain": [-8.25, 8.25], "range": [0, -118], "nice": false, "zero": false}, "axis": null}, "color": {"field": "v", "type": "quantitative", "scale": {"domain": [0, 0.125, 0.375, 0.625, 0.875, 1], "range": ["#00008f", "#0000ff", "#00ffff", "#ffff00", "#ff0000", "#800000"], "interpolate": "rgb", "clamp": true}, "legend": null}}},
          {"data": {"values": [{}]}, "mark": {"type": "arc", "theta": 0, "theta2": 6.2832, "innerRadius": 47, "outerRadius": 58, "color": "#ffffff"}, "encoding": {"x": {"datum": 0, "type": "quantitative"}, "y": {"datum": 0, "type": "quantitative"}}},
          {"data": {"values": [{}]}, "mark": {"type": "arc", "theta": 0, "theta2": 6.2832, "innerRadius": 46.5, "outerRadius": 50, "color": "#dfe9f5", "opacity": 0.8}, "encoding": {"x": {"datum": 0, "type": "quantitative"}, "y": {"datum": 0, "type": "quantitative"}}},
          {"data": {"values": [{}]}, "mark": {"type": "arc", "theta": 0, "theta2": 6.2832, "innerRadius": 45.8, "outerRadius": 47.3, "color": "#0072BD"}, "encoding": {"x": {"datum": 0, "type": "quantitative"}, "y": {"datum": 0, "type": "quantitative"}}},
          {"data": {"name": "head"}, "mark": {"type": "point", "shape": "circle", "filled": true, "size": 12, "opacity": 1, "color": "#0072BD"}, "encoding": {"x": {"field": "hx", "type": "quantitative"}, "y": {"field": "hy", "type": "quantitative"}}},
          {"data": {"values": [{}]}, "mark": {"type": "text", "text": "MS 1", "font": "Liberation Sans", "fontSize": 16, "color": "#000000", "align": "center", "baseline": "middle"}, "encoding": {"x": {"datum": 0, "type": "quantitative"}, "y": {"datum": 10.28, "type": "quantitative"}}}
        ]},
        {"layer": [
          {"data": {"name": "topo"}, "transform": [{"filter": "datum.m == 2"}], "mark": {"type": "point", "shape": "square", "filled": true, "size": 56, "opacity": 1, "strokeWidth": 0},
           "encoding": {"x": {"field": "i", "type": "quantitative", "scale": {"domain": [-8.25, 8.25], "range": [127.5, 245.5], "nice": false, "zero": false}, "axis": null}, "y": {"field": "j", "type": "quantitative", "scale": {"domain": [-8.25, 8.25], "range": [0, -118], "nice": false, "zero": false}, "axis": null}, "color": {"field": "v", "type": "quantitative", "scale": {"domain": [0, 0.125, 0.375, 0.625, 0.875, 1], "range": ["#00008f", "#0000ff", "#00ffff", "#ffff00", "#ff0000", "#800000"], "interpolate": "rgb", "clamp": true}, "legend": null}}},
          {"data": {"values": [{}]}, "mark": {"type": "arc", "theta": 0, "theta2": 6.2832, "innerRadius": 47, "outerRadius": 58, "color": "#ffffff"}, "encoding": {"x": {"datum": 0, "type": "quantitative"}, "y": {"datum": 0, "type": "quantitative"}}},
          {"data": {"values": [{}]}, "mark": {"type": "arc", "theta": 0, "theta2": 6.2832, "innerRadius": 46.5, "outerRadius": 50, "color": "#dfe9f5", "opacity": 0.8}, "encoding": {"x": {"datum": 0, "type": "quantitative"}, "y": {"datum": 0, "type": "quantitative"}}},
          {"data": {"values": [{}]}, "mark": {"type": "arc", "theta": 0, "theta2": 6.2832, "innerRadius": 45.8, "outerRadius": 47.3, "color": "#D95319"}, "encoding": {"x": {"datum": 0, "type": "quantitative"}, "y": {"datum": 0, "type": "quantitative"}}},
          {"data": {"name": "head"}, "mark": {"type": "point", "shape": "circle", "filled": true, "size": 12, "opacity": 1, "color": "#D95319"}, "encoding": {"x": {"field": "hx", "type": "quantitative"}, "y": {"field": "hy", "type": "quantitative"}}},
          {"data": {"values": [{}]}, "mark": {"type": "text", "text": "MS 2", "font": "Liberation Sans", "fontSize": 16, "color": "#000000", "align": "center", "baseline": "middle"}, "encoding": {"x": {"datum": 0, "type": "quantitative"}, "y": {"datum": 10.28, "type": "quantitative"}}}
        ]},
        {"layer": [
          {"data": {"name": "topo"}, "transform": [{"filter": "datum.m == 3"}], "mark": {"type": "point", "shape": "square", "filled": true, "size": 56, "opacity": 1, "strokeWidth": 0},
           "encoding": {"x": {"field": "i", "type": "quantitative", "scale": {"domain": [-8.25, 8.25], "range": [255, 373], "nice": false, "zero": false}, "axis": null}, "y": {"field": "j", "type": "quantitative", "scale": {"domain": [-8.25, 8.25], "range": [0, -118], "nice": false, "zero": false}, "axis": null}, "color": {"field": "v", "type": "quantitative", "scale": {"domain": [0, 0.125, 0.375, 0.625, 0.875, 1], "range": ["#00008f", "#0000ff", "#00ffff", "#ffff00", "#ff0000", "#800000"], "interpolate": "rgb", "clamp": true}, "legend": null}}},
          {"data": {"values": [{}]}, "mark": {"type": "arc", "theta": 0, "theta2": 6.2832, "innerRadius": 47, "outerRadius": 58, "color": "#ffffff"}, "encoding": {"x": {"datum": 0, "type": "quantitative"}, "y": {"datum": 0, "type": "quantitative"}}},
          {"data": {"values": [{}]}, "mark": {"type": "arc", "theta": 0, "theta2": 6.2832, "innerRadius": 46.5, "outerRadius": 50, "color": "#dfe9f5", "opacity": 0.8}, "encoding": {"x": {"datum": 0, "type": "quantitative"}, "y": {"datum": 0, "type": "quantitative"}}},
          {"data": {"values": [{}]}, "mark": {"type": "arc", "theta": 0, "theta2": 6.2832, "innerRadius": 45.8, "outerRadius": 47.3, "color": "#EDB120"}, "encoding": {"x": {"datum": 0, "type": "quantitative"}, "y": {"datum": 0, "type": "quantitative"}}},
          {"data": {"name": "head"}, "mark": {"type": "point", "shape": "circle", "filled": true, "size": 12, "opacity": 1, "color": "#EDB120"}, "encoding": {"x": {"field": "hx", "type": "quantitative"}, "y": {"field": "hy", "type": "quantitative"}}},
          {"data": {"values": [{}]}, "mark": {"type": "text", "text": "MS 3", "font": "Liberation Sans", "fontSize": 16, "color": "#000000", "align": "center", "baseline": "middle"}, "encoding": {"x": {"datum": 0, "type": "quantitative"}, "y": {"datum": 10.28, "type": "quantitative"}}}
        ]}
      ]
    }
  ]
}
